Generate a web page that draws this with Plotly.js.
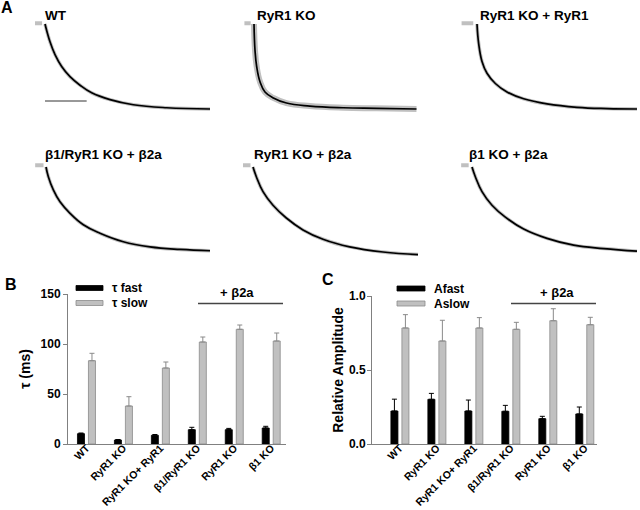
<!DOCTYPE html>
<html>
<head>
<meta charset="utf-8">
<script src="https://cdn.plot.ly/plotly-3.0.1.min.js"></script>
<style>html,body{margin:0;padding:0;background:#fff;}#chart{width:640px;height:510px;}</style>
</head>
<body>
<div id="chart"></div>
<script>
// ---------- Panel A: normalized decay traces (time in ms, normalized amplitude) ----------
const traceLabels = ['WT', 'RyR1 KO', 'RyR1 KO + RyR1', 'β1/RyR1 KO + β2a', 'RyR1 KO + β2a', 'β1 KO + β2a'];

const tWT = [0, 12, 24, 40, 60, 84, 112, 156, 212, 292, 396];
const fWT = [1.0, 0.79, 0.64, 0.50, 0.38, 0.28, 0.19, 0.11, 0.05, 0.015, 0.0];

const tRyKO = [0, 2.4, 6.4, 14.4, 26.4, 46.4, 78, 134, 214, 294, 390];
const fRyKO = [1.0, 0.69, 0.50, 0.32, 0.20, 0.13, 0.07, 0.035, 0.015, 0.008, 0.0];

const tRyKOres = [0, 4, 12, 24, 44, 72, 112, 168, 240, 312, 384];
const fRyKOres = [1.0, 0.77, 0.56, 0.42, 0.30, 0.20, 0.12, 0.06, 0.02, 0.005, 0.0];

const tB1RyB2a = [0, 5.6, 17.6, 33.6, 57.6, 89.6, 129.6, 185.6, 249.6, 321.6, 393.6];
const fB1RyB2a = [1.0, 0.886, 0.73, 0.59, 0.455, 0.32, 0.22, 0.12, 0.06, 0.03, 0.015];

const tRyB2a = [0, 8, 24, 48, 80, 120, 168, 232, 312, 396];
const fRyB2a = [1.0, 0.886, 0.71, 0.55, 0.40, 0.26, 0.15, 0.06, 0.0, -0.03];

const tB1B2a = [0, 8, 24, 48, 80, 124, 180, 244, 316, 396];
const fB1B2a = [1.0, 0.886, 0.71, 0.55, 0.41, 0.27, 0.16, 0.08, 0.04, 0.01];

// pre-stimulus baseline segments (ms) and level
const baseT = [[-24, -7], [-23, -8], [-37, -9], [-26, -6], [-24, -6], [-26, -8]];
const baseF = [1.01, 1.01, 1.01, 1.02, 1.02, 1.02];
const scaleBarMs = 100;

const traceT = [tWT, tRyKO, tRyKOres, tB1RyB2a, tRyB2a, tB1B2a];
const traceF = [fWT, fRyKO, fRyKOres, fB1RyB2a, fRyB2a, fB1B2a];

// ---------- Panels B and C ----------
const groups = ['WT', 'RyR1 KO', 'RyR1 KO+ RyR1', 'β1/RyR1 KO', 'RyR1 KO', 'β1 KO'];
const tauFast = [10.3, 4.0, 8.7, 14.3, 14.3, 16.0];
const tauFastErr = [0.7, 0.5, 0.8, 2.4, 1.3, 1.7];
const tauSlow = [83.3, 38.0, 76.0, 102.0, 114.7, 103.0];
const tauSlowErr = [7.4, 9.3, 6.0, 5.0, 4.3, 8.0];
const aFast = [0.223, 0.302, 0.223, 0.221, 0.171, 0.203];
const aFastErr = [0.08, 0.04, 0.074, 0.04, 0.016, 0.047];
const aSlow = [0.784, 0.696, 0.784, 0.775, 0.833, 0.806];
const aSlowErr = [0.09, 0.14, 0.07, 0.047, 0.081, 0.05];

// ---------- geometry helpers ----------
const W = 640, H = 510;
const px = x => x / W;
const py = y => 1 - y / H;
const FONT = 'Liberation Sans, Arial, sans-serif';
const GREY = '#c0c0c0', GREYLINE = '#8a8a8a', AXC = '#808080';

const data = [];
const layout = {
  width: W, height: H,
  margin: {l: 0, r: 0, t: 0, b: 0},
  paper_bgcolor: '#fff', plot_bgcolor: 'rgba(0,0,0,0)',
  showlegend: false,
  barmode: 'group', bargap: 0.405, bargroupgap: 0.36,
  font: {family: FONT, color: '#000', size: 12},
  annotations: [], shapes: []
};

// Panel A sub-axes: origin pixel of each trace start (F=1 at t=0)
const origins = [[45, 24], [254, 24], [477, 24], [46, 167], [253, 167], [472, 167]];
const msPerPx = 2.4, pxPerUnit = 85;
const labelPos = [[43, 15], [255, 15], [478, 15], [43, 154], [252, 154], [467, 154]];
const greyWidths = [3.5, 6, 3.5, 3.5, 3.5, 3.5];

origins.forEach((o, i) => {
  const n = i + 1;
  const xs = n === 1 ? '' : String(n);
  const left = o[0] - 40 / msPerPx;
  const right = Math.min(W, o[0] + 400 / msPerPx);
  const top = o[1] - 0.05 * pxPerUnit, bottom = o[1] + 1.05 * pxPerUnit;
  layout['xaxis' + xs] = {domain: [px(left), px(right)], range: [(left - o[0]) * msPerPx, (right - o[0]) * msPerPx],
    visible: false, fixedrange: true, anchor: 'y' + xs};
  layout['yaxis' + xs] = {domain: [py(bottom), py(top)], range: [-0.05, 1.05], visible: false, fixedrange: true, anchor: 'x' + xs};
  // grey recorded trace
  data.push({type: 'scatter', mode: 'lines', x: traceT[i], y: traceF[i], xaxis: 'x' + xs, yaxis: 'y' + xs,
    line: {color: GREY, width: greyWidths[i], shape: 'spline', smoothing: 1.2}, hoverinfo: 'skip'});
  // baseline segment
  data.push({type: 'scatter', mode: 'lines', x: baseT[i], y: [baseF[i], baseF[i]], xaxis: 'x' + xs, yaxis: 'y' + xs,
    line: {color: GREY, width: 4}, hoverinfo: 'skip'});
  // black fit
  data.push({type: 'scatter', mode: 'lines', x: traceT[i], y: traceF[i], xaxis: 'x' + xs, yaxis: 'y' + xs,
    line: {color: '#000', width: 1.7, shape: 'spline', smoothing: 1.2}, name: traceLabels[i]});
  layout.annotations.push({text: traceLabels[i], xref: 'paper', yref: 'paper', x: px(labelPos[i][0]), y: py(labelPos[i][1]),
    xanchor: 'left', yanchor: 'middle', showarrow: false, font: {size: 13.5, weight: 'bold', family: FONT}});
});
// scale bar in WT panel
layout.shapes.push({type: 'line', xref: 'x', yref: 'y', x0: 0, x1: scaleBarMs, y0: 0.094, y1: 0.094, line: {color: '#333', width: 1}});

// ---------- Panels B, C ----------
const xIdx = groups.map((g, i) => i);
function barAxes(xs, xDom, xRange, yDom, yRange, tickvals, title, standoff, labelStandoff) {
  layout['xaxis' + xs] = {domain: xDom, range: xRange, anchor: 'y' + xs, showline: true, linecolor: AXC, linewidth: 1,
    ticks: '', tickvals: xIdx, ticktext: groups, tickangle: -45, showgrid: false, zeroline: false, ticklabelstandoff: -7,
    tickfont: {size: 10.5, weight: 'bold', family: FONT}, fixedrange: true};
  layout['yaxis' + xs] = {domain: yDom, range: yRange, anchor: 'x' + xs, showline: true, linecolor: AXC, linewidth: 1,
    ticks: 'outside', ticklen: 4, tickcolor: AXC, tickvals: tickvals, showgrid: false, zeroline: false,
    ticklabelstandoff: labelStandoff,
    tickfont: {size: 12, weight: 'bold', family: FONT}, fixedrange: true,
    title: {text: title, font: {size: 14, weight: 'bold', family: FONT}, standoff: standoff}};
}
barAxes('7', [px(68), px(286)], [-0.5, 5.4], [py(444), py(294)], [0, 150], [0, 50, 100, 150], 'τ (ms)', 6, 0);
barAxes('8', [px(372), px(597)], [-0.755, 5.33], [py(444), py(296)], [0, 1], [0, 0.5, 1], 'Relative Amplitude', 2, -1);
layout.yaxis8.tickformat = '.1f';

function bars(xs, y, err, color, lineColor, errColor, name) {
  data.push({type: 'bar', x: xIdx, y: y, xaxis: 'x' + xs, yaxis: 'y' + xs, name: name,
    marker: {color: color, line: {color: lineColor, width: 0.8}},
    error_y: {type: 'data', array: err, arrayminus: err.map(() => 0), symmetric: false, color: errColor, thickness: 1, width: 2.5}});
}
bars('7', tauFast, tauFastErr, '#000', '#000', '#000', 'τ fast');
bars('7', tauSlow, tauSlowErr, GREY, GREYLINE, GREYLINE, 'τ slow');
bars('8', aFast, aFastErr, '#000', '#000', '#000', 'Afast');
bars('8', aSlow, aSlowErr, GREY, GREYLINE, GREYLINE, 'Aslow');

// manual legends
function legendItem(x0, x1, yc, fill, line, label) {
  layout.shapes.push({type: 'rect', xref: 'paper', yref: 'paper', x0: px(x0), x1: px(x1), y0: py(yc + 2.5), y1: py(yc - 2.5),
    fillcolor: fill, line: {color: line, width: 0.8}});
  layout.annotations.push({text: label, xref: 'paper', yref: 'paper', x: px(x1 + 7), y: py(yc), xanchor: 'left', yanchor: 'middle',
    showarrow: false, font: {size: 12, weight: 'bold', family: FONT}});
}
legendItem(76, 103, 288, '#000', '#000', 'τ fast');
legendItem(76, 103, 303, GREY, GREYLINE, 'τ slow');
legendItem(397, 425, 288.5, '#000', '#000', 'Afast');
legendItem(397, 425, 303.5, GREY, GREYLINE, 'Aslow');

// "+ β2a" brackets
function bracket(xc, yText, x0, x1, yLine) {
  layout.annotations.push({text: '+ β2a', xref: 'paper', yref: 'paper', x: px(xc), y: py(yText), xanchor: 'center', yanchor: 'middle',
    showarrow: false, font: {size: 13, weight: 'bold', family: FONT}});
  layout.shapes.push({type: 'line', xref: 'paper', yref: 'paper', x0: px(x0), x1: px(x1), y0: py(yLine), y1: py(yLine),
    line: {color: '#444', width: 1.3}});
}
bracket(237, 292.5, 198, 283, 303.5);
bracket(557, 292.5, 511, 596, 303.5);

// panel letters
[['A', 7, 8], ['B', 11, 284], ['C', 328, 279]].forEach(p => {
  layout.annotations.push({text: p[0], xref: 'paper', yref: 'paper', x: px(p[1]), y: py(p[2]), xanchor: 'center', yanchor: 'middle',
    showarrow: false, font: {size: 16, weight: 'bold', family: FONT}});
});

Plotly.newPlot('chart', data, layout, {staticPlot: true, displayModeBar: false});
</script>
</body>
</html>
